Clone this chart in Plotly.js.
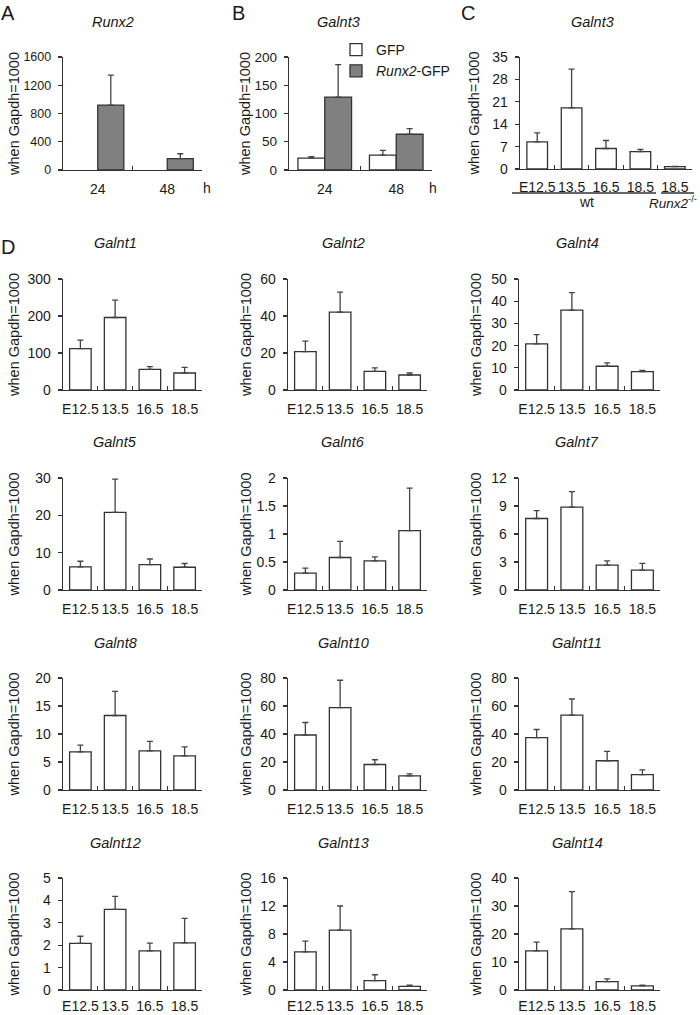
<!DOCTYPE html>
<html><head><meta charset="utf-8">
<script src="https://cdn.plot.ly/plotly-3.0.1.min.js"></script>
<style>html,body{margin:0;padding:0;background:#fff}#chart{width:700px;height:1015px}</style>
</head><body><div id="chart"></div>
<script>
// ---------------- data ----------------
const hours = ['24', '48'];
// Panel A: Runx2 expression after infection
const runx2_gfpMean = [0, 0];
const runx2_runx2Mean = [920, 160];
const runx2_runx2Err = [422, 70];
// Panel B: Galnt3 expression after infection
const galnt3_gfpMean = [21, 26.4];
const galnt3_gfpErr = [2.5, 8.2];
const galnt3_runx2Mean = [129, 63.3];
const galnt3_runx2Err = [57.5, 10];
// Panel C: Galnt3 in vivo
const stagesC = ['E12.5 wt', '13.5 wt', '16.5 wt', '18.5 wt', '18.5 Runx2-/-'];
const stageLabelsC = ['E12.5', '13.5', '16.5', '18.5', '18.5'];
const galnt3VivoMean = [8.5, 19.1, 6.4, 5.4, 0.73];
const galnt3VivoErr = [2.8, 12.1, 2.5, 0.7, 0.1];
// Panel D
const stages = ['E12.5', '13.5', '16.5', '18.5'];
const galnt1Mean = [112, 196, 56, 46];     const galnt1Err = [23, 47, 7, 15];
const galnt2Mean = [20.7, 42.1, 10.1, 8.1]; const galnt2Err = [5.7, 10.8, 1.9, 1.1];
const galnt4Mean = [20.8, 36, 10.7, 8.3];   const galnt4Err = [4.1, 7.9, 1.5, 0.5];
const galnt5Mean = [6.2, 20.8, 6.8, 6.1];   const galnt5Err = [1.5, 8.9, 1.5, 1.0];
const galnt6Mean = [0.30, 0.58, 0.52, 1.06]; const galnt6Err = [0.09, 0.29, 0.07, 0.76];
const galnt7Mean = [7.66, 8.87, 2.67, 2.14]; const galnt7Err = [0.84, 1.67, 0.46, 0.71];
const galnt8Mean = [6.8, 13.3, 7.0, 6.1];   const galnt8Err = [1.2, 4.3, 1.7, 1.6];
const galnt10Mean = [39.3, 58.8, 18.2, 10.1]; const galnt10Err = [8.9, 19.6, 3.4, 1.4];
const galnt11Mean = [37.4, 53.5, 20.9, 11.0]; const galnt11Err = [5.8, 11.5, 6.7, 3.4];
const galnt12Mean = [2.08, 3.6, 1.75, 2.1];  const galnt12Err = [0.32, 0.58, 0.34, 1.1];
const galnt13Mean = [5.46, 8.55, 1.33, 0.52]; const galnt13Err = [1.52, 3.45, 0.85, 0.19];
const galnt14Mean = [14.0, 21.8, 3.0, 1.5];  const galnt14Err = [3.1, 13.3, 1.0, 0.2];
const geneNamesD = ['Galnt1','Galnt2','Galnt4','Galnt5','Galnt6','Galnt7','Galnt8','Galnt10','Galnt11','Galnt12','Galnt13','Galnt14'];
const geneMeansD = [galnt1Mean, galnt2Mean, galnt4Mean, galnt5Mean, galnt6Mean, galnt7Mean, galnt8Mean, galnt10Mean, galnt11Mean, galnt12Mean, galnt13Mean, galnt14Mean];
const geneErrsD = [galnt1Err, galnt2Err, galnt4Err, galnt5Err, galnt6Err, galnt7Err, galnt8Err, galnt10Err, galnt11Err, galnt12Err, galnt13Err, galnt14Err];
const yTitle = 'when Gapdh=1000';

// ---------------- styling / layout ----------------
const W = 700, H = 1015;
const FONT = '"Liberation Sans", Arial, Helvetica, sans-serif';
const TXT = '#1a1a1a';
const AX = '#333333';
const TICKFS = 14, YTFS = 14.5;
const fx = p => p / W, fy = p => 1 - p / H;

const cv = document.createElement('canvas').getContext('2d');
function labelWidth(yMax, dtick, fs) {
  cv.font = fs + 'px "Liberation Sans"';
  let w = 0;
  for (let i = 0; i * dtick <= yMax + 1e-9; i++) {
    const s = String(+(i * dtick).toFixed(4));
    w = Math.max(w, cv.measureText(s).width);
  }
  return w;
}

// panel geometry (pixels): x0,x1 plot area ; top,zero of y axis ; yTitle center x ; tick font size ; x label standoff
const panels = [
  {x0: 63, x1: 202, top: 57, zero: 170, yMax: 1600, dtick: 400, tx: 15, fs: 12.5, xso: 6},
  {x0: 289, x1: 432, top: 57, zero: 170, yMax: 200, dtick: 50, tx: 247, fs: 13.5, xso: 6},
  {x0: 520, x1: 692, top: 57, zero: 169, yMax: 35, dtick: 7, tx: 475, fs: 14, xso: 5},
];
const colsD = [[63, 202, 15], [288, 427, 247], [519, 660, 477]];
const rowsD = [[279, 390, 6], [478, 590, 6], [678, 790, 6], [878, 990, 3]];
const yMaxD = [[300,100],[60,20],[50,10],[30,10],[2,0.5],[12,3],[20,5],[80,20],[80,20],[5,1],[16,4],[40,10]];
geneNamesD.forEach((g, k) => {
  const c = colsD[k % 3], r = rowsD[Math.floor(k / 3)];
  panels.push({x0: c[0], x1: c[1], top: r[0], zero: r[1], yMax: yMaxD[k][0], dtick: yMaxD[k][1], tx: c[2], fs: TICKFS, xso: r[2]});
});

const layout = {
  width: W, height: H,
  margin: {l: 0, r: 0, t: 0, b: 0, pad: 0},
  paper_bgcolor: '#fff', plot_bgcolor: 'rgba(0,0,0,0)',
  font: {family: FONT, color: TXT, size: TICKFS},
  barmode: 'group', bargap: 0.25, bargroupgap: 0,
  showlegend: true,
  legend: {x: fx(336), y: fy(34), xanchor: 'left', yanchor: 'top', bgcolor: 'rgba(0,0,0,0)',
           font: {family: FONT, size: 14, color: TXT}, tracegroupgap: 4, itemwidth: 30, traceorder: 'normal'},
  annotations: [], shapes: []
};

panels.forEach((p, i) => {
  const n = i + 1, sfx = n === 1 ? '' : String(n);
  const ncat = i < 2 ? 2 : (i === 2 ? 5 : 4);
  const xa = {
    domain: [fx(p.x0), fx(p.x1)], anchor: 'y' + sfx, type: 'category',
    range: [-0.5, ncat - 0.5], tickson: 'boundaries', tickangle: 0,
    ticks: 'inside', ticklen: 4, tickwidth: 1.2, tickcolor: AX,
    showline: true, linecolor: AX, linewidth: 1.3, showgrid: false, zeroline: false,
    tickfont: {family: FONT, size: TICKFS, color: TXT}, ticklabelstandoff: p.xso, fixedrange: true
  };
  if (i === 2) { xa.tickmode = 'array'; xa.tickvals = stagesC; xa.ticktext = stageLabelsC; }
  const axisDepth = 4 + 4 + labelWidth(p.yMax, p.dtick, p.fs);
  const standoff = Math.max(0, p.x0 - axisDepth - 0.35 * YTFS - p.tx - 7);
  const ya = {
    domain: [fy(p.zero), fy(p.top)], anchor: 'x' + sfx,
    range: [0, p.yMax], tick0: 0, dtick: p.dtick,
    ticks: 'outside', ticklen: 4, tickwidth: 1.2, tickcolor: AX,
    showline: true, linecolor: AX, linewidth: 1.3, showgrid: false, zeroline: false,
    tickfont: {family: FONT, size: p.fs, color: TXT}, ticklabelstandoff: 4, fixedrange: true,
    title: {text: yTitle, font: {family: FONT, size: YTFS, color: TXT}, standoff: standoff}
  };
  layout['xaxis' + sfx] = xa;
  layout['yaxis' + sfx] = ya;
});

function bar(x, y, err, n, fill, opts) {
  const sfx = n === 1 ? '' : String(n);
  const t = Object.assign({
    type: 'bar', x: x, y: y, xaxis: 'x' + sfx, yaxis: 'y' + sfx,
    marker: {color: fill, line: {color: AX, width: 1.3}},
    showlegend: false, hoverinfo: 'x+y'
  }, opts || {});
  if (err) {
    t.error_y = {type: 'data', symmetric: false, array: err, arrayminus: err.map(() => 0),
                 color: '#444', thickness: 1.3, width: 3};
  }
  return t;
}

const GRAY = '#808080';
const traces = [];
// A
traces.push(bar(hours, runx2_gfpMean, null, 1, '#ffffff', {name: 'GFP', legendgroup: 'gfp', marker: {color: '#ffffff', line: {color: 'rgba(0,0,0,0)', width: 0}}}));
traces.push(bar(hours, runx2_runx2Mean, runx2_runx2Err, 1, GRAY, {name: 'Runx2-GFP', legendgroup: 'runx2'}));
// B
traces.push(bar(hours, galnt3_gfpMean, galnt3_gfpErr, 2, '#ffffff', {name: 'GFP', legendgroup: 'gfp', showlegend: true}));
traces.push(bar(hours, galnt3_runx2Mean, galnt3_runx2Err, 2, GRAY, {name: '<i>Runx2</i>-GFP', legendgroup: 'runx2', showlegend: true}));
// C
traces.push(bar(stagesC, galnt3VivoMean, galnt3VivoErr, 3, '#ffffff', {width: 0.6, name: 'Galnt3'}));
// D
geneNamesD.forEach((g, k) => {
  traces.push(bar(stages, geneMeansD[k], geneErrsD[k], k + 4, '#ffffff', {width: 0.62, name: g}));
});

// annotations
function ann(text, x, y, size, extra) {
  layout.annotations.push(Object.assign({
    text: text, x: fx(x), y: fy(y), xref: 'paper', yref: 'paper',
    xanchor: 'center', yanchor: 'middle', showarrow: false,
    font: {family: FONT, size: size, color: TXT}
  }, extra || {}));
}
ann('A', 8, 13, 20); ann('B', 238, 13, 20); ann('C', 468, 13, 20); ann('D', 8, 247, 20);
ann('<i>Runx2</i>', 113, 22, 14.5);
ann('<i>Galnt3</i>', 338, 22, 14.5);
ann('<i>Galnt3</i>', 592, 22, 14.5);
const titleColX = [115, 343, 577], titleRowY = [243, 442, 643, 843];
geneNamesD.forEach((g, k) => ann('<i>' + g + '</i>', titleColX[k % 3], titleRowY[Math.floor(k / 3)], 14.5));
ann('h', 207, 188, 14); ann('h', 433, 188, 14);
ann('wt', 586, 202, 14);
ann('<i>Runx2</i><sup>-/-</sup>', 699, 202, 13.5, {xanchor: 'right'});
layout.shapes.push({type: 'line', xref: 'paper', yref: 'paper', x0: fx(512), x1: fx(656), y0: fy(193), y1: fy(193), line: {color: AX, width: 1.3}});
layout.shapes.push({type: 'line', xref: 'paper', yref: 'paper', x0: fx(661), x1: fx(694), y0: fy(193), y1: fy(193), line: {color: AX, width: 1.3}});

Plotly.newPlot('chart', traces, layout, {displayModeBar: false, staticPlot: true});
</script>
</body></html>
